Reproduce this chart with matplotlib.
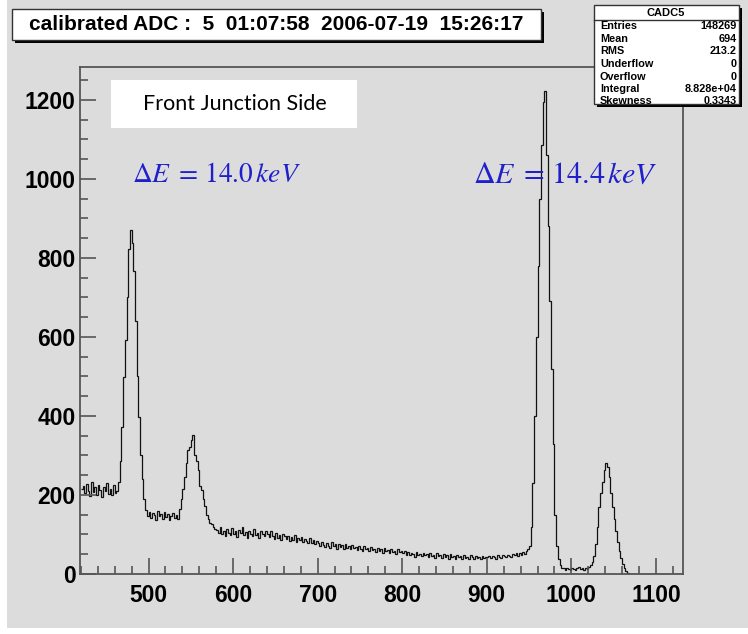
import numpy as np
import matplotlib.pyplot as plt
from matplotlib.patches import Rectangle
from matplotlib.ticker import MultipleLocator

plt.rcParams['mathtext.fontset'] = 'stix'

# calibrated ADC spectrum, 2-channel bins from 420 to 1130
bin_lo, bin_hi, bin_w = 420, 1130, 2

cnt_420_464 = [215, 222, 205, 228, 210, 198, 232, 207, 219, 201, 226, 212, 196, 221, 209, 230,
               203, 214, 199, 224, 206, 211]
cnt_464_500 = [232, 285, 372, 498, 592, 700, 822, 870, 838, 768, 640, 500, 398, 300, 240, 190,
               162, 148]
cnt_500_536 = [158, 141, 155, 149, 137, 160, 146, 152, 139, 157, 144, 151, 136, 148, 155, 142,
               150, 138]
cnt_536_580 = [165, 190, 215, 245, 280, 315, 322, 338, 352, 300, 285, 262, 222, 212, 190, 172,
               150, 138, 130, 126, 120, 115]
cnt_580_640 = [112, 104, 118, 101, 108, 96, 113, 105, 99, 116, 102, 109, 94, 111, 103, 120,
               98, 107, 92, 110, 101, 96, 114, 99, 105, 91, 108, 100, 95, 110]
cnt_640_700 = [102, 94, 108, 97, 89, 104, 92, 99, 86, 101, 95, 88, 97, 83, 93, 87,
               98, 82, 90, 85, 94, 80, 88, 84, 78, 91, 79, 86, 76, 83]
cnt_700_800 = [78, 70, 82, 74, 68, 79, 72, 66, 81, 71, 75, 64, 77, 69, 73, 62, 76, 67, 70, 63,
               74, 65, 68, 60, 72, 64, 58, 70, 62, 66, 57, 69, 61, 64, 55, 67, 59, 63, 54, 66,
               58, 61, 53, 64, 56, 59, 51, 62, 55, 57]
cnt_800_900 = [52, 58, 49, 55, 47, 53, 50, 44, 56, 48, 51, 45, 54, 47, 50, 43, 52, 46, 49, 41,
               53, 45, 48, 40, 51, 44, 47, 39, 50, 43, 46, 38, 49, 42, 45, 37, 48, 41, 44, 39,
               47, 42, 38, 46, 40, 43, 37, 45, 41, 44]
cnt_900_952 = [42, 46, 40, 45, 43, 39, 47, 44, 41, 48, 45, 42, 49, 46, 43, 50, 47, 52, 45, 54,
               49, 56, 51, 58, 62, 72]
cnt_952_990 = [120, 230, 400, 600, 780, 950, 1085, 1195, 1222, 1060, 880, 690, 520, 330, 150,
               70, 38, 22, 16]
cnt_990_1024 = [14, 11, 16, 12, 9, 15, 13, 10, 14, 17, 12, 15, 11, 16, 13, 18, 22]
cnt_1024_1070 = [30, 45, 75, 120, 170, 205, 232, 262, 282, 270, 245, 205, 170, 140, 110, 82,
                 58, 40, 25, 14, 7, 3, 1]
cnt_1070_1130 = [0] * 30

counts = np.concatenate([cnt_420_464, cnt_464_500, cnt_500_536, cnt_536_580, cnt_580_640,
                         cnt_640_700, cnt_700_800, cnt_800_900, cnt_900_952, cnt_952_990,
                         cnt_990_1024, cnt_1024_1070, cnt_1070_1130])
edges = np.arange(bin_lo, bin_hi + bin_w, bin_w)

title = 'calibrated ADC :  5  01:07:58  2006-07-19  15:26:17'
stat_name = 'CADC5'
stat_keys = ['Entries', 'Mean', 'RMS', 'Underflow', 'Overflow', 'Integral', 'Skewness']
stat_vals = ['148269', '694', '213.2', '0', '0', '8.828e+04', '0.3343']

W, H = 748, 634
bg = '#dcdcdc'
frame = '#555555'
blue = '#1f1fcc'
bold = dict(family=['Liberation Sans', 'DejaVu Sans'], weight='bold')


def fx(x):
    return x / W


def fy(y):
    return 1 - y / H


def box(x0, y0, x1, y1, shadow=0, **kw):
    # pixel box (top-left origin), optional drop shadow
    if shadow:
        fig.patches.append(Rectangle((fx(x0 + shadow), fy(y1 + shadow)), (x1 - x0) / W,
                                     (y1 - y0) / H, transform=fig.transFigure,
                                     facecolor='black', edgecolor='none', zorder=2))
    fig.patches.append(Rectangle((fx(x0), fy(y1)), (x1 - x0) / W, (y1 - y0) / H,
                                 transform=fig.transFigure, zorder=2.1, **kw))


fig = plt.figure(figsize=(W / 100, H / 100), dpi=100, facecolor=bg)
ax = fig.add_axes([fx(80), fy(574), (683 - 80) / W, (574 - 67) / H])
ax.set_facecolor(bg)

ax.stairs(counts, edges, baseline=None, color='#111111', lw=0.9)

ax.set_xlim(419, 1132)
ax.set_ylim(0, 1283)
ax.xaxis.set_major_locator(MultipleLocator(100))
ax.xaxis.set_minor_locator(MultipleLocator(20))
ax.yaxis.set_major_locator(MultipleLocator(200))
ax.yaxis.set_minor_locator(MultipleLocator(50))
ax.tick_params(which='both', direction='in', color=frame, width=1.2)
ax.tick_params(which='major', length=11.5)
ax.tick_params(which='minor', length=5.5)
ax.tick_params(axis='x', which='major', pad=7)
ax.tick_params(axis='y', which='major', pad=3)
for lab in ax.get_xticklabels() + ax.get_yticklabels():
    lab.set_fontfamily(['Liberation Sans', 'DejaVu Sans'])
    lab.set_fontweight('bold')
    lab.set_fontsize(16.5)
for sp in ax.spines.values():
    sp.set_color(frame)
    sp.set_linewidth(1.3)

# white margins of the canvas
fig.patches.append(Rectangle((0, 0), fx(7), 1, transform=fig.transFigure,
                             facecolor='white', edgecolor='none', zorder=2))
fig.patches.append(Rectangle((0, 0), 1, fy(628), transform=fig.transFigure,
                             facecolor='white', edgecolor='none', zorder=2))

# title pave
box(12, 9, 541, 40, shadow=3, facecolor='white', edgecolor='#333333', lw=1.0)
fig.text(fx(276), fy(25), title, ha='center', va='center', fontsize=15, zorder=3, **bold)

# stats pave
box(594, 5, 739, 104, shadow=3, facecolor='white', edgecolor='#333333', lw=1.0)
fig.add_artist(plt.Line2D([fx(594), fx(739)], [fy(20), fy(20)], color='#333333', lw=1.0,
                          zorder=3))
fig.text(fx(666), fy(12.5), stat_name, ha='center', va='center', fontsize=8, zorder=3, **bold)
row_y = [26, 38.5, 51.5, 64, 76.5, 89, 101.5]
for k, v, y in zip(stat_keys, stat_vals, row_y):
    fig.text(fx(600), fy(y), k, ha='left', va='center', fontsize=7.8, zorder=3, **bold)
    fig.text(fx(737), fy(y), v, ha='right', va='center', fontsize=7.8, zorder=3, **bold)

# side label
box(111, 80, 357, 128, facecolor='white', edgecolor='none')
fig.text(fx(235), fy(104), 'Front Junction Side', ha='center', va='center', fontsize=15.5,
         family=['Lato', 'DejaVu Sans'], zorder=3)

# resolution labels
fig.text(fx(132), fy(174), r'$\Delta E\;=\,14.0\,keV$', ha='left', va='center', fontsize=19.8,
         color=blue, zorder=3)
fig.text(fx(473), fy(174), r'$\Delta E\;=\,14.4\,keV$', ha='left', va='center', fontsize=21.6,
         color=blue, zorder=3)

fig.savefig('out.png', dpi=100, facecolor=bg)
